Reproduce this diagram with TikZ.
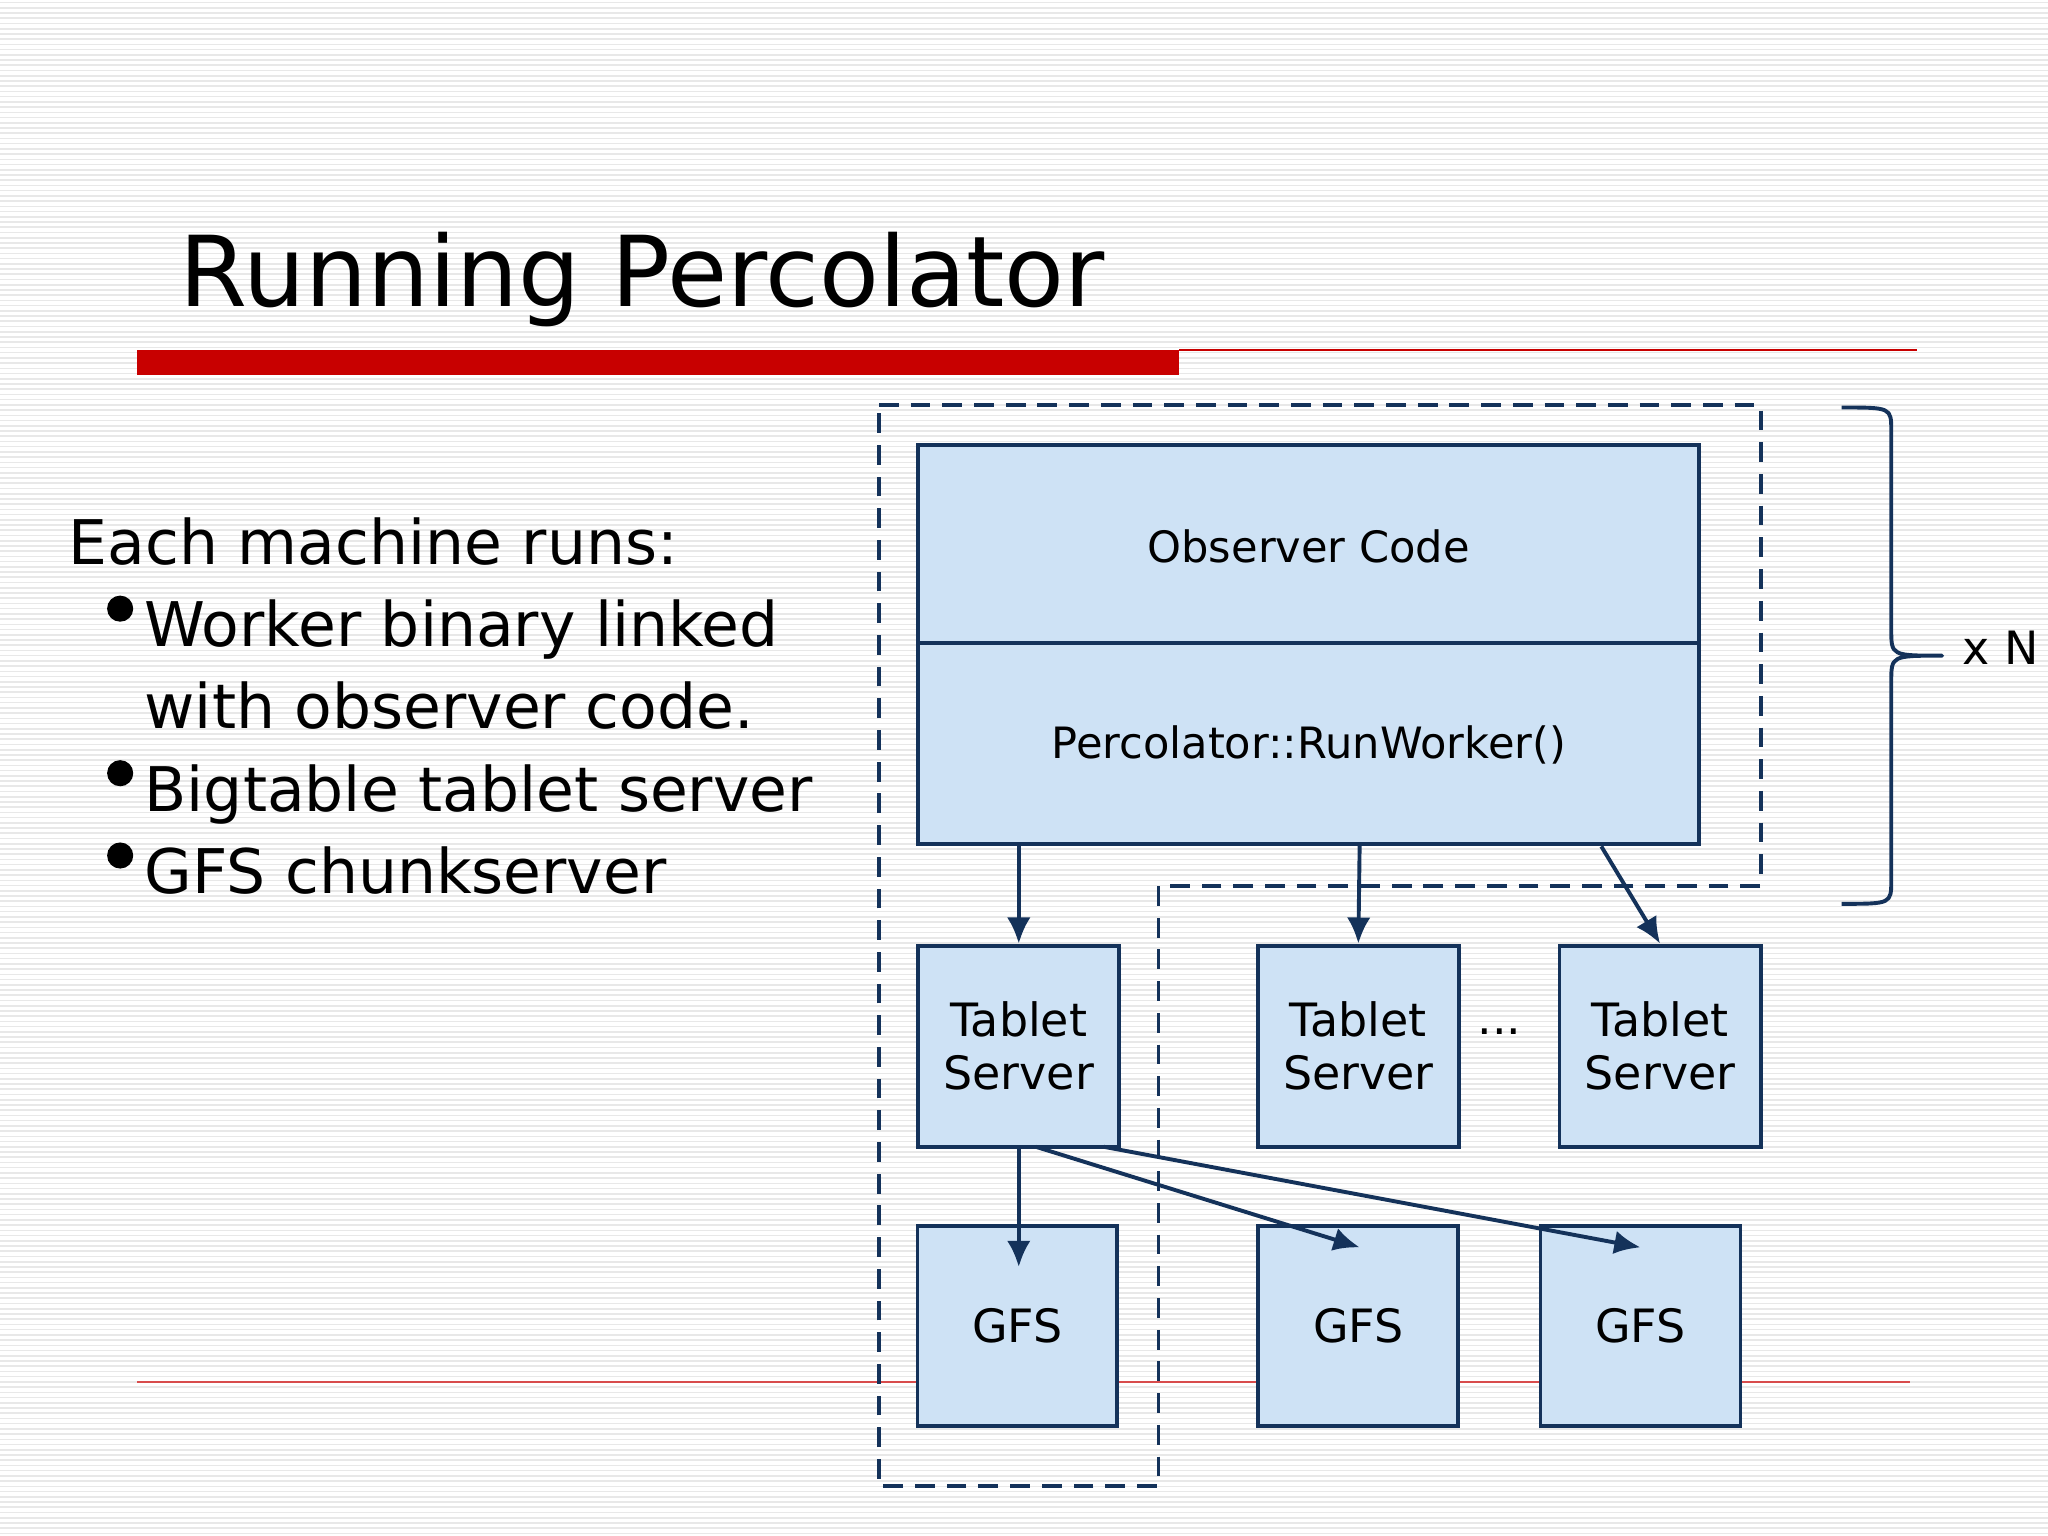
\documentclass[tikz,border=0pt]{standalone}
\usepackage{fontspec}
\setmainfont{DejaVu Sans}
\usetikzlibrary{arrows.meta}
\definecolor{navy}{RGB}{20,50,90}
\definecolor{boxfill}{RGB}{206,226,245}
\definecolor{redbar}{RGB}{200,0,0}
\begin{document}
\begin{tikzpicture}[x=0.01cm,y=-0.01cm,
  box/.style={draw=navy,fill=boxfill,line width=0.85pt,inner sep=0pt},
  arr/.style={draw=navy,line width=0.85pt,-{Latex[length=2mm,width=1.8mm]}},
  lbl/.style={font=\fontsize{9.4}{11}\selectfont,align=center},
  big/.style={font=\fontsize{10}{11.5}\selectfont,align=center},
  txt/.style={anchor=base west,inner sep=0pt,font=\fontsize{13.4}{16}\selectfont}]
\useasboundingbox (0,0) rectangle (1568,1176);
\fill[white] (0,0) rectangle (1568,1176);
\foreach \i in {0,...,293} {\draw[gray!18,line width=0.35pt] (0,\i*4+2) -- (1568,\i*4+2);}
% title
\node[anchor=base west,inner sep=0pt,font=\fontsize{21.3}{25}\selectfont] (title) at (137,235) {Running Percolator};
\fill[redbar] (105,268) rectangle (903,287);
\draw[redbar,line width=0.5pt] (903,268) -- (1468,268);
\draw[redbar!70,line width=0.4pt] (105,1058) -- (1462,1058);
% left text
\node[txt] (t0) at (52,432) {Each machine runs:};
\node[txt] (t1) at (110,495) {Worker binary linked};
\node[txt] (t2) at (110,558) {with observer code.};
\node[txt] (t3) at (110,621) {Bigtable tablet server};
\node[txt] (t4) at (110,684) {GFS chunkserver};
\foreach \y in {466,592,655} \fill (92,\y) circle (10);
% dashed outline
\draw[navy,line width=0.85pt,dash pattern=on 4.3pt off 2.6pt] (673,310) -- (1348,310) -- (1348,678) -- (887,678) -- (887,1138) -- (673,1138) -- cycle;
% observer
\draw[box] (703,341) rectangle (1301,646);
\draw[navy,line width=0.85pt] (703,492) -- (1301,492);
\node[lbl] (obs) at (1002,418) {Observer Code};
\node[lbl] (run) at (1002,570) {Percolator::RunWorker()};
\coordinate (o1) at (780,646); \coordinate (o2) at (1041,646); \coordinate (o3) at (1226,648);
% tablets
\node[box,minimum width=1.54cm,minimum height=1.54cm,big] (ts1) at (780,801) {Tablet\\Server};
\node[box,minimum width=1.54cm,minimum height=1.54cm,big] (ts2) at (1040,801) {Tablet\\Server};
\node[box,minimum width=1.54cm,minimum height=1.54cm,big] (ts3) at (1271,801) {Tablet\\Server};
\node[big] (dots) at (1148,790) {...};
% gfs
\node[box,minimum width=1.53cm,minimum height=1.53cm,big] (g1) at (779,1015) {GFS};
\node[box,minimum width=1.53cm,minimum height=1.53cm,big] (g2) at (1040,1015) {GFS};
\node[box,minimum width=1.53cm,minimum height=1.53cm,big] (g3) at (1256,1015) {GFS};
% arrows
\draw[arr] (o1) -- (ts1.north);
\draw[arr] (o2) -- (ts2.north);
\draw[arr] (o3) -- (ts3.north);
\coordinate (b1) at (780,878); \coordinate (b2) at (793,878); \coordinate (b3) at (845,878);
\coordinate (e1) at (780,970); \coordinate (e2) at (1041,955); \coordinate (e3) at (1256,955);
\draw[arr] (b1) -- (e1);
\draw[arr] (b2) -- (e2);
\draw[arr] (b3) -- (e3);
% brace
\coordinate (bt) at (1410,312); \coordinate (bb) at (1410,692); \coordinate (tip) at (1487,502);
\draw[navy,line width=0.85pt,line join=round] (bt) .. controls (1448,312) .. (1448,330) -- (1448,482)
  .. controls (1448,502) .. (tip) .. controls (1448,502) .. (1448,522) -- (1448,674) .. controls (1448,692) .. (bb);
\node[anchor=west,font=\fontsize{10}{12}\selectfont,inner sep=0pt] (xn) at (1502,496) {x N};
\end{tikzpicture}
\end{document}
